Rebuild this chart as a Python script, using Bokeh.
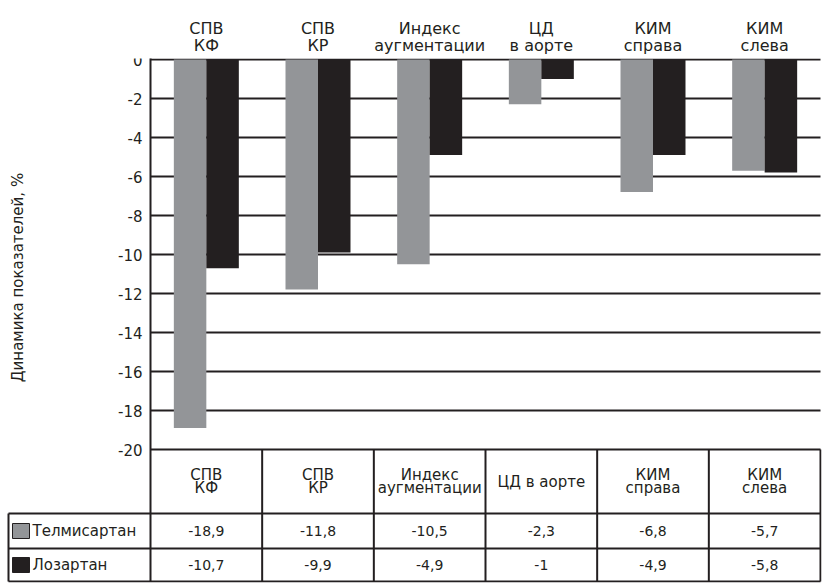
import math
from bokeh.plotting import figure
from bokeh.models import Range1d, FixedTicker, LinearAxis, ColumnDataSource
from bokeh.embed import file_html
from bokeh.resources import INLINE
from bokeh.core.properties import value

# ---- data ----
header_labels = ["СПВ\nКФ", "СПВ\nКР", "Индекс\nаугментации", "ЦД\nв аорте", "КИМ\nсправа", "КИМ\nслева"]
table_labels = ["СПВ\nКФ", "СПВ\nКР", "Индекс\nаугментации", "ЦД в аорте", "КИМ\nсправа", "КИМ\nслева"]
series_names = ["Телмисартан", "Лозартан"]
telmisartan = [-18.9, -11.8, -10.5, -2.3, -6.8, -5.7]
losartan = [-10.7, -9.9, -4.9, -1.0, -4.9, -5.8]
y_ticks = [-20, -18, -16, -14, -12, -10, -8, -6, -4, -2, 0]
y_label = "Динамика показателей, %"

# ---- styling ----
FONT = "DejaVu Sans"
INK = "#231f20"
GREY = "#939598"
series_colors = [GREY, INK]

W, H = 832, 585
ORIGIN_X, RIGHT_PAD, TOP_PAD, BOTTOM_PAD = 150, 11, 58, 3
PX_PER_UNIT_Y = 19.5
n = len(header_labels)
PX_PER_UNIT_X = (820 - ORIGIN_X) / n
bar_w = 0.291
centers = [i + 0.5 for i in range(n)]

y_top = 1 / PX_PER_UNIT_Y
y_bottom = y_top - (H - BOTTOM_PAD - TOP_PAD) / PX_PER_UNIT_Y


def vx(px):
    """canvas x (px) -> x data units"""
    return (px - ORIGIN_X) / PX_PER_UNIT_X


def vy(py):
    """canvas y (px) -> y data units"""
    return y_top - (py - TOP_PAD) / PX_PER_UNIT_Y


p = figure(width=W, height=H, x_range=Range1d(vx(0), vx(W - RIGHT_PAD)),
           y_range=Range1d(y_bottom, y_top),
           x_axis_location="above", y_axis_location=None,
           min_border_left=0, min_border_right=RIGHT_PAD,
           min_border_top=TOP_PAD, min_border_bottom=BOTTOM_PAD,
           output_backend="svg", toolbar_location=None)
p.outline_line_color = None
p.background_fill_color = "white"
p.border_fill_color = "white"
p.grid.visible = False

# ---- horizontal value lines ----
p.segment(x0=[0] * len(y_ticks), y0=y_ticks, x1=[n] * len(y_ticks), y1=y_ticks,
          line_color=INK, line_width=2)

# ---- bars ----
src = ColumnDataSource(dict(
    xt=[c - bar_w / 2 for c in centers], xl=[c + bar_w / 2 for c in centers],
    tel=telmisartan, los=losartan))
p.vbar(x="xt", top=0, bottom="tel", width=bar_w, source=src,
       fill_color=series_colors[0], line_color=None)
p.vbar(x="xl", top=0, bottom="los", width=bar_w, source=src,
       fill_color=series_colors[1], line_color=None)

# ---- value axis (labels only), pinned just left of the plot area ----
ya = LinearAxis(fixed_location=vx(143))
ya.ticker = FixedTicker(ticks=y_ticks)
ya.major_label_overrides = {t: str(t) for t in y_ticks}
ya.axis_line_color = None
ya.major_tick_line_color = None
ya.major_tick_in = 0
ya.major_tick_out = 0
ya.minor_tick_line_color = None
ya.major_label_standoff = 1
ya.major_label_text_font = FONT
ya.major_label_text_font_size = "15px"
ya.major_label_text_color = INK
p.add_layout(ya, "left")

# ---- category labels along the top ----
xa = p.xaxis[0]
xa.ticker = FixedTicker(ticks=centers)
xa.major_label_overrides = {c: lab for c, lab in zip(centers, header_labels)}
xa.axis_line_color = None
xa.major_tick_in = 0
xa.major_tick_out = 0
xa.minor_tick_line_color = None
xa.major_label_standoff = 4
xa.major_label_text_font = FONT
xa.major_label_text_font_size = "16px"
xa.major_label_text_color = INK
xa.major_label_text_line_height = 0.85

# rotated value-axis title
p.text(x=[vx(17)], y=[vy(277)], text=[y_label], angle=math.pi / 2, text_align="center",
       text_baseline="middle", text_font=value(FONT), text_font_size="15px", text_color=INK)

# ---- data table under the chart ----
header_bottom = vy(513)
row_split = vy(548)
table_bottom = vy(581)
left_edge = vx(8)

p.segment(x0=[left_edge] * 3, y0=[header_bottom, row_split, table_bottom],
          x1=[n] * 3, y1=[header_bottom, row_split, table_bottom],
          line_color=INK, line_width=2)
p.segment(x0=[left_edge], y0=[header_bottom], x1=[left_edge], y1=[table_bottom],
          line_color=INK, line_width=2)
p.segment(x0=list(range(1, n + 1)), y0=[-20] * n, x1=list(range(1, n + 1)), y1=[table_bottom] * n,
          line_color=INK, line_width=2)

p.text(x=centers, y=[(-20 + header_bottom) / 2] * n, text=table_labels, text_align="center",
       text_baseline="middle", text_font=value(FONT), text_font_size="15px",
       text_color=INK, text_line_height=0.72)


def fmt(v):
    return f"{v:g}".replace(".", ",")


row_mid = [(header_bottom + row_split) / 2, (row_split + table_bottom) / 2]
for r, vals in enumerate([telmisartan, losartan]):
    p.text(x=centers, y=[row_mid[r]] * n, text=[fmt(v) for v in vals],
           text_align="center", text_baseline="middle", text_font=value(FONT),
           text_font_size="14px", text_color=INK)
    p.rect(x=[vx(20.5)], y=[row_mid[r]], width=17, height=15, width_units="screen",
           height_units="screen", fill_color=series_colors[r], line_color=INK, line_width=1)
    p.text(x=[vx(32)], y=[row_mid[r]], text=[series_names[r]], text_align="left",
           text_baseline="middle", text_font=value(FONT), text_font_size="15px",
           text_color=INK)

# left rule of the plot area and of the table, as a thin filled strip
p.quad(left=[vx(149)], right=[vx(151)], top=[vy(58)], bottom=[table_bottom],
       fill_color=INK, line_color=None, level="overlay")

open("out.html", "w").write(file_html(p, INLINE))
